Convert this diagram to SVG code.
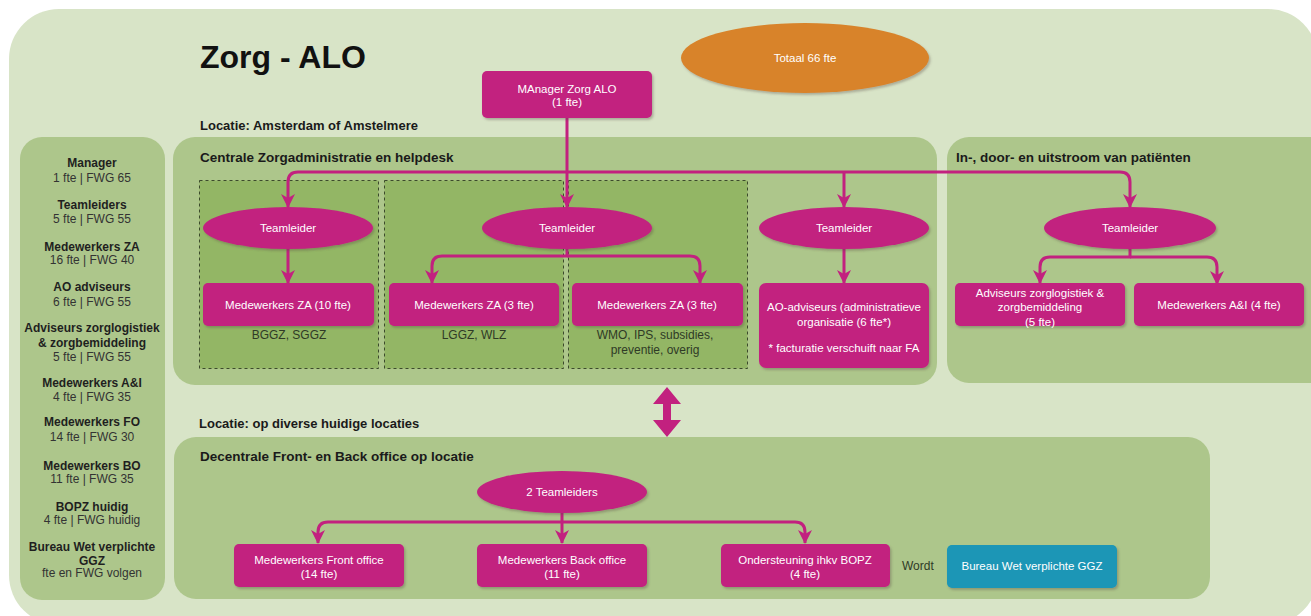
<svg xmlns="http://www.w3.org/2000/svg" width="1311" height="616" viewBox="0 0 1311 616">
<defs>
<style>
.bg{fill:#d8e4c7}
.cont{fill:#adc68b}
.dash{fill:#93b665;stroke:#3c4a2c;stroke-width:1;stroke-dasharray:3,3}
.mag{fill:#c2217f}
.box{fill:#c2217f;filter:url(#sh)}
.wt{font-family:"Liberation Sans",Arial,sans-serif;font-size:11.5px;fill:#ffffff;text-anchor:middle}
.dk{font-family:"Liberation Sans",Arial,sans-serif;font-size:12px;fill:#2f3a26;text-anchor:middle}
.sb{font-family:"Liberation Sans",Arial,sans-serif;font-size:12px;font-weight:bold;fill:#1f1f1f;text-anchor:middle}
.sr{font-family:"Liberation Sans",Arial,sans-serif;font-size:12px;fill:#333333;text-anchor:middle}
.ttl{font-family:"Liberation Sans",Arial,sans-serif;font-size:13.5px;font-weight:bold;fill:#1a1a1a}
.con{fill:none;stroke:#c2217f;stroke-width:3;stroke-linejoin:round}
</style>
<filter id="sh" x="-10%" y="-20%" width="120%" height="150%">
<feDropShadow dx="1.5" dy="2" stdDeviation="1" flood-color="#5a4a40" flood-opacity="0.35"/>
</filter>
<marker id="ah" viewBox="0 0 14 14" refX="13" refY="7" markerWidth="14" markerHeight="14" markerUnits="userSpaceOnUse" orient="auto">
<path d="M0,0 L14,7 L0,14 L4,7 Z" fill="#c2217f"/>
</marker>
</defs>
<rect x="0" y="0" width="1311" height="616" fill="#ffffff"/>
<rect class="bg" x="9" y="9" width="1309" height="616" rx="50"/>

<g id="sidebar">
<rect class="cont" x="20" y="137" width="145" height="463" rx="22"/>
<text class="sb" x="92" y="167">Manager</text>
<text class="sr" x="92" y="182">1 fte | FWG 65</text>
<text class="sb" x="92" y="209">Teamleiders</text>
<text class="sr" x="92" y="223">5 fte | FWG 55</text>
<text class="sb" x="92" y="251">Medewerkers ZA</text>
<text class="sr" x="92" y="264">16 fte | FWG 40</text>
<text class="sb" x="92" y="291">AO adviseurs</text>
<text class="sr" x="92" y="306">6 fte | FWG 55</text>
<text class="sb" x="92" y="332">Adviseurs zorglogistiek</text>
<text class="sb" x="92" y="347">&amp; zorgbemiddeling</text>
<text class="sr" x="92" y="361">5 fte | FWG 55</text>
<text class="sb" x="92" y="387">Medewerkers A&amp;I</text>
<text class="sr" x="92" y="401">4 fte | FWG 35</text>
<text class="sb" x="92" y="426">Medewerkers FO</text>
<text class="sr" x="92" y="441">14 fte | FWG 30</text>
<text class="sb" x="92" y="470">Medewerkers BO</text>
<text class="sr" x="92" y="483">11 fte | FWG 35</text>
<text class="sb" x="92" y="511">BOPZ huidig</text>
<text class="sr" x="92" y="524">4 fte | FWG huidig</text>
<text class="sb" x="92" y="551">Bureau Wet verplichte</text>
<text class="sb" x="92" y="565">GGZ</text>
<text class="sr" x="92" y="577">fte en FWG volgen</text>
</g>

<g id="titles">
<text x="200" y="68" font-family="'Liberation Sans',Arial,sans-serif" font-size="32" font-weight="bold" fill="#111111">Zorg - ALO</text>
<text class="ttl" x="200" y="130" style="font-size:13px">Locatie: Amsterdam of Amstelmere</text>
<text class="ttl" x="199" y="428" style="font-size:13px">Locatie: op diverse huidige locaties</text>
</g>

<g id="centrale">
<rect class="cont" x="173" y="137" width="764" height="248" rx="22"/>
<text class="ttl" x="200" y="162">Centrale Zorgadministratie en helpdesk</text>
<rect class="dash" x="199.5" y="180.5" width="179" height="188"/>
<rect class="dash" x="384.5" y="180.5" width="179" height="188"/>
<rect class="dash" x="568.5" y="180.5" width="179" height="188"/>
</g>

<g id="instroom">
<rect class="cont" x="947" y="137" width="390" height="246" rx="22"/>
<text class="ttl" x="956" y="162">In-, door- en uitstroom van patiënten</text>
</g>

<g id="decentrale">
<rect class="cont" x="174" y="437" width="1036" height="162" rx="22"/>
<text class="ttl" x="200" y="461">Decentrale Front- en Back office op locatie</text>
</g>

<g id="connectors">
<path class="con" d="M567,118 V207" marker-end="url(#ah)"/>
<path class="con" d="M567,172 H298 Q288,172 288,182 V207" marker-end="url(#ah)"/>
<path class="con" d="M567,172 H1120 Q1130,172 1130,182 V207" marker-end="url(#ah)"/>
<path class="con" d="M844,172 V207" marker-end="url(#ah)"/>
<path class="con" d="M288,249 V283" marker-end="url(#ah)"/>
<path class="con" d="M844,249 V283" marker-end="url(#ah)"/>
<path class="con" d="M567,249 V256 H442 Q432,256 432,266 V283" marker-end="url(#ah)"/>
<path class="con" d="M567,256 H690 Q700,256 700,266 V283" marker-end="url(#ah)"/>
<path class="con" d="M1130,249 V257 H1050 Q1040,257 1040,267 V283" marker-end="url(#ah)"/>
<path class="con" d="M1130,257 H1207 Q1217,257 1217,267 V284" marker-end="url(#ah)"/>
<path class="con" d="M562,513 V543" marker-end="url(#ah)"/>
<path class="con" d="M562,522 H328 Q318,522 318,532 V543" marker-end="url(#ah)"/>
<path class="con" d="M562,522 H795 Q805,522 805,532 V543" marker-end="url(#ah)"/>
<path class="mag" d="M667,387 L681,404 L671,404 L671,420 L681,420 L667,437 L653,420 L663,420 L663,404 L653,404 Z"/>
</g>

<g id="manager">
<rect class="box" x="482" y="71" width="170" height="47" rx="5"/>
<text class="wt" x="567" y="93">MAnager Zorg ALO</text>
<text class="wt" x="567" y="106">(1 fte)</text>
</g>

<g id="totaal">
<ellipse cx="805" cy="58" rx="124" ry="35" fill="#d8832a" filter="url(#sh)"/>
<text class="wt" x="805" y="62">Totaal 66 fte</text>
</g>

<g id="tl1">
<ellipse class="box" cx="288" cy="228" rx="85" ry="21"/>
<text class="wt" x="288" y="232">Teamleider</text>
</g>
<g id="tl2">
<ellipse class="box" cx="567" cy="228" rx="85" ry="21"/>
<text class="wt" x="567" y="232">Teamleider</text>
</g>
<g id="tl3">
<ellipse class="box" cx="844" cy="228" rx="85" ry="21"/>
<text class="wt" x="844" y="232">Teamleider</text>
</g>
<g id="tl4">
<ellipse class="box" cx="1130" cy="228" rx="86" ry="21"/>
<text class="wt" x="1130" y="232">Teamleider</text>
</g>

<g id="za10">
<rect class="box" x="203" y="283" width="171" height="43" rx="5"/>
<text class="wt" x="288" y="309">Medewerkers ZA (10 fte)</text>
<text class="dk" x="289" y="339">BGGZ, SGGZ</text>
</g>
<g id="za3a">
<rect class="box" x="389" y="283" width="170" height="43" rx="5"/>
<text class="wt" x="474" y="309">Medewerkers ZA (3 fte)</text>
<text class="dk" x="474" y="339">LGGZ, WLZ</text>
</g>
<g id="za3b">
<rect class="box" x="572" y="283" width="171" height="43" rx="5"/>
<text class="wt" x="657" y="309">Medewerkers ZA (3 fte)</text>
<text class="dk" x="655" y="339">WMO, IPS, subsidies,</text>
<text class="dk" x="655" y="354">preventie, overig</text>
</g>
<g id="ao">
<rect class="box" x="759" y="283" width="170" height="85" rx="7"/>
<text class="wt" x="844" y="311">AO-adviseurs (administratieve</text>
<text class="wt" x="844" y="326">organisatie (6 fte*)</text>
<text class="wt" x="844" y="352">* facturatie verschuift naar FA</text>
</g>
<g id="adviseurs">
<rect class="box" x="955" y="283" width="170" height="43" rx="5"/>
<text class="wt" x="1040" y="297">Adviseurs zorglogistiek &amp;</text>
<text class="wt" x="1040" y="311">zorgbemiddeling</text>
<text class="wt" x="1040" y="326">(5 fte)</text>
</g>
<g id="ai">
<rect class="box" x="1134" y="283" width="170" height="43" rx="5"/>
<text class="wt" x="1219" y="309">Medewerkers A&amp;I (4 fte)</text>
</g>

<g id="tl2x">
<ellipse class="box" cx="562" cy="492" rx="85" ry="21"/>
<text class="wt" x="562" y="496">2 Teamleiders</text>
</g>
<g id="fo">
<rect class="box" x="234" y="544" width="170" height="43" rx="5"/>
<text class="wt" x="319" y="564">Medewerkers Front office</text>
<text class="wt" x="319" y="578">(14 fte)</text>
</g>
<g id="bo">
<rect class="box" x="477" y="544" width="170" height="43" rx="5"/>
<text class="wt" x="562" y="564">Medewerkers Back office</text>
<text class="wt" x="562" y="578">(11 fte)</text>
</g>
<g id="bopz">
<rect class="box" x="721" y="544" width="169" height="43" rx="5"/>
<text class="wt" x="805" y="564">Ondersteuning ihkv BOPZ</text>
<text class="wt" x="805" y="578">(4 fte)</text>
</g>
<text class="dk" x="902" y="570" style="text-anchor:start">Wordt</text>
<g id="bureau">
<rect x="947" y="545" width="170" height="43" rx="5" fill="#1a96b6" filter="url(#sh)"/>
<text class="wt" x="1032" y="570">Bureau Wet verplichte GGZ</text>
</g>
</svg>
